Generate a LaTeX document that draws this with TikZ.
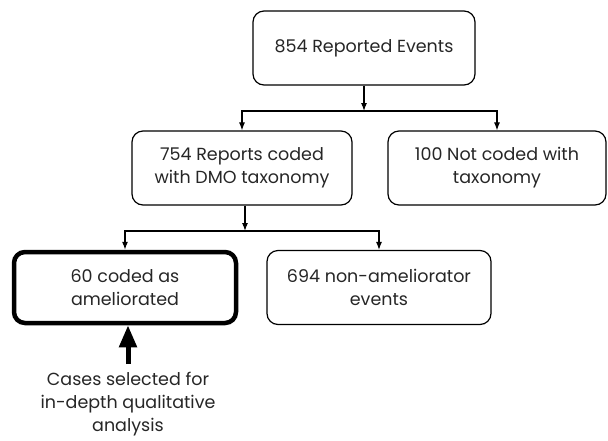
\documentclass[tikz,border=0pt]{standalone}
\usepackage{fontspec}
\setmainfont{Poppins}
\usetikzlibrary{arrows.meta}
\begin{document}
\begin{tikzpicture}[x=1pt,y=-1pt,
  every node/.style={font=\fontsize{17.5}{23}\selectfont, align=center, text=black!85},
  box/.style={draw, line width=1.2pt, rounded corners=11pt, minimum width=220pt, minimum height=74pt, inner sep=0pt},
  thickbox/.style={box, line width=4.5pt},
  conn/.style={line width=1.1pt, -{Latex[width=6pt,length=8pt]}},
  bigarrow/.style={line width=5pt, -{Triangle[width=17pt,length=22pt]}}]
\useasboundingbox (0,0) rectangle (608,440);
\node[box, minimum width=222pt] (top) at (364,48) {854 Reported Events};
\node[box] (coded) at (242,168) {754 Reports coded\\with DMO taxonomy};
\node[box, minimum width=218pt] (notcoded) at (497,168) {100 Not coded with\\taxonomy};
\node[thickbox, minimum width=222pt, minimum height=71pt] (amel) at (125,287.5) {60 coded as\\ameliorated};
\node[box, minimum width=224pt] (nonamel) at (379,287.5) {694 non-ameliorator\\events};
\coordinate (j1) at (364,111);
\coordinate (j2) at (245,231);
\draw[conn] (top.south) -- (j1);
\draw[conn] (j1) -| (coded.north);
\draw[conn] (j1) -| (notcoded.north);
\draw[conn] (coded.south -| j2) -- (j2);
\draw[conn] (j2) -| (amel.north);
\draw[conn] (j2) -| (nonamel.north);
\node[anchor=north, inner sep=0pt] (cases) at (128,372) {Cases selected for\\in-depth qualitative\\analysis};
\coordinate (castart) at (128,364);
\draw[bigarrow] (castart) -- (castart |- amel.south);
\end{tikzpicture}
\end{document}
